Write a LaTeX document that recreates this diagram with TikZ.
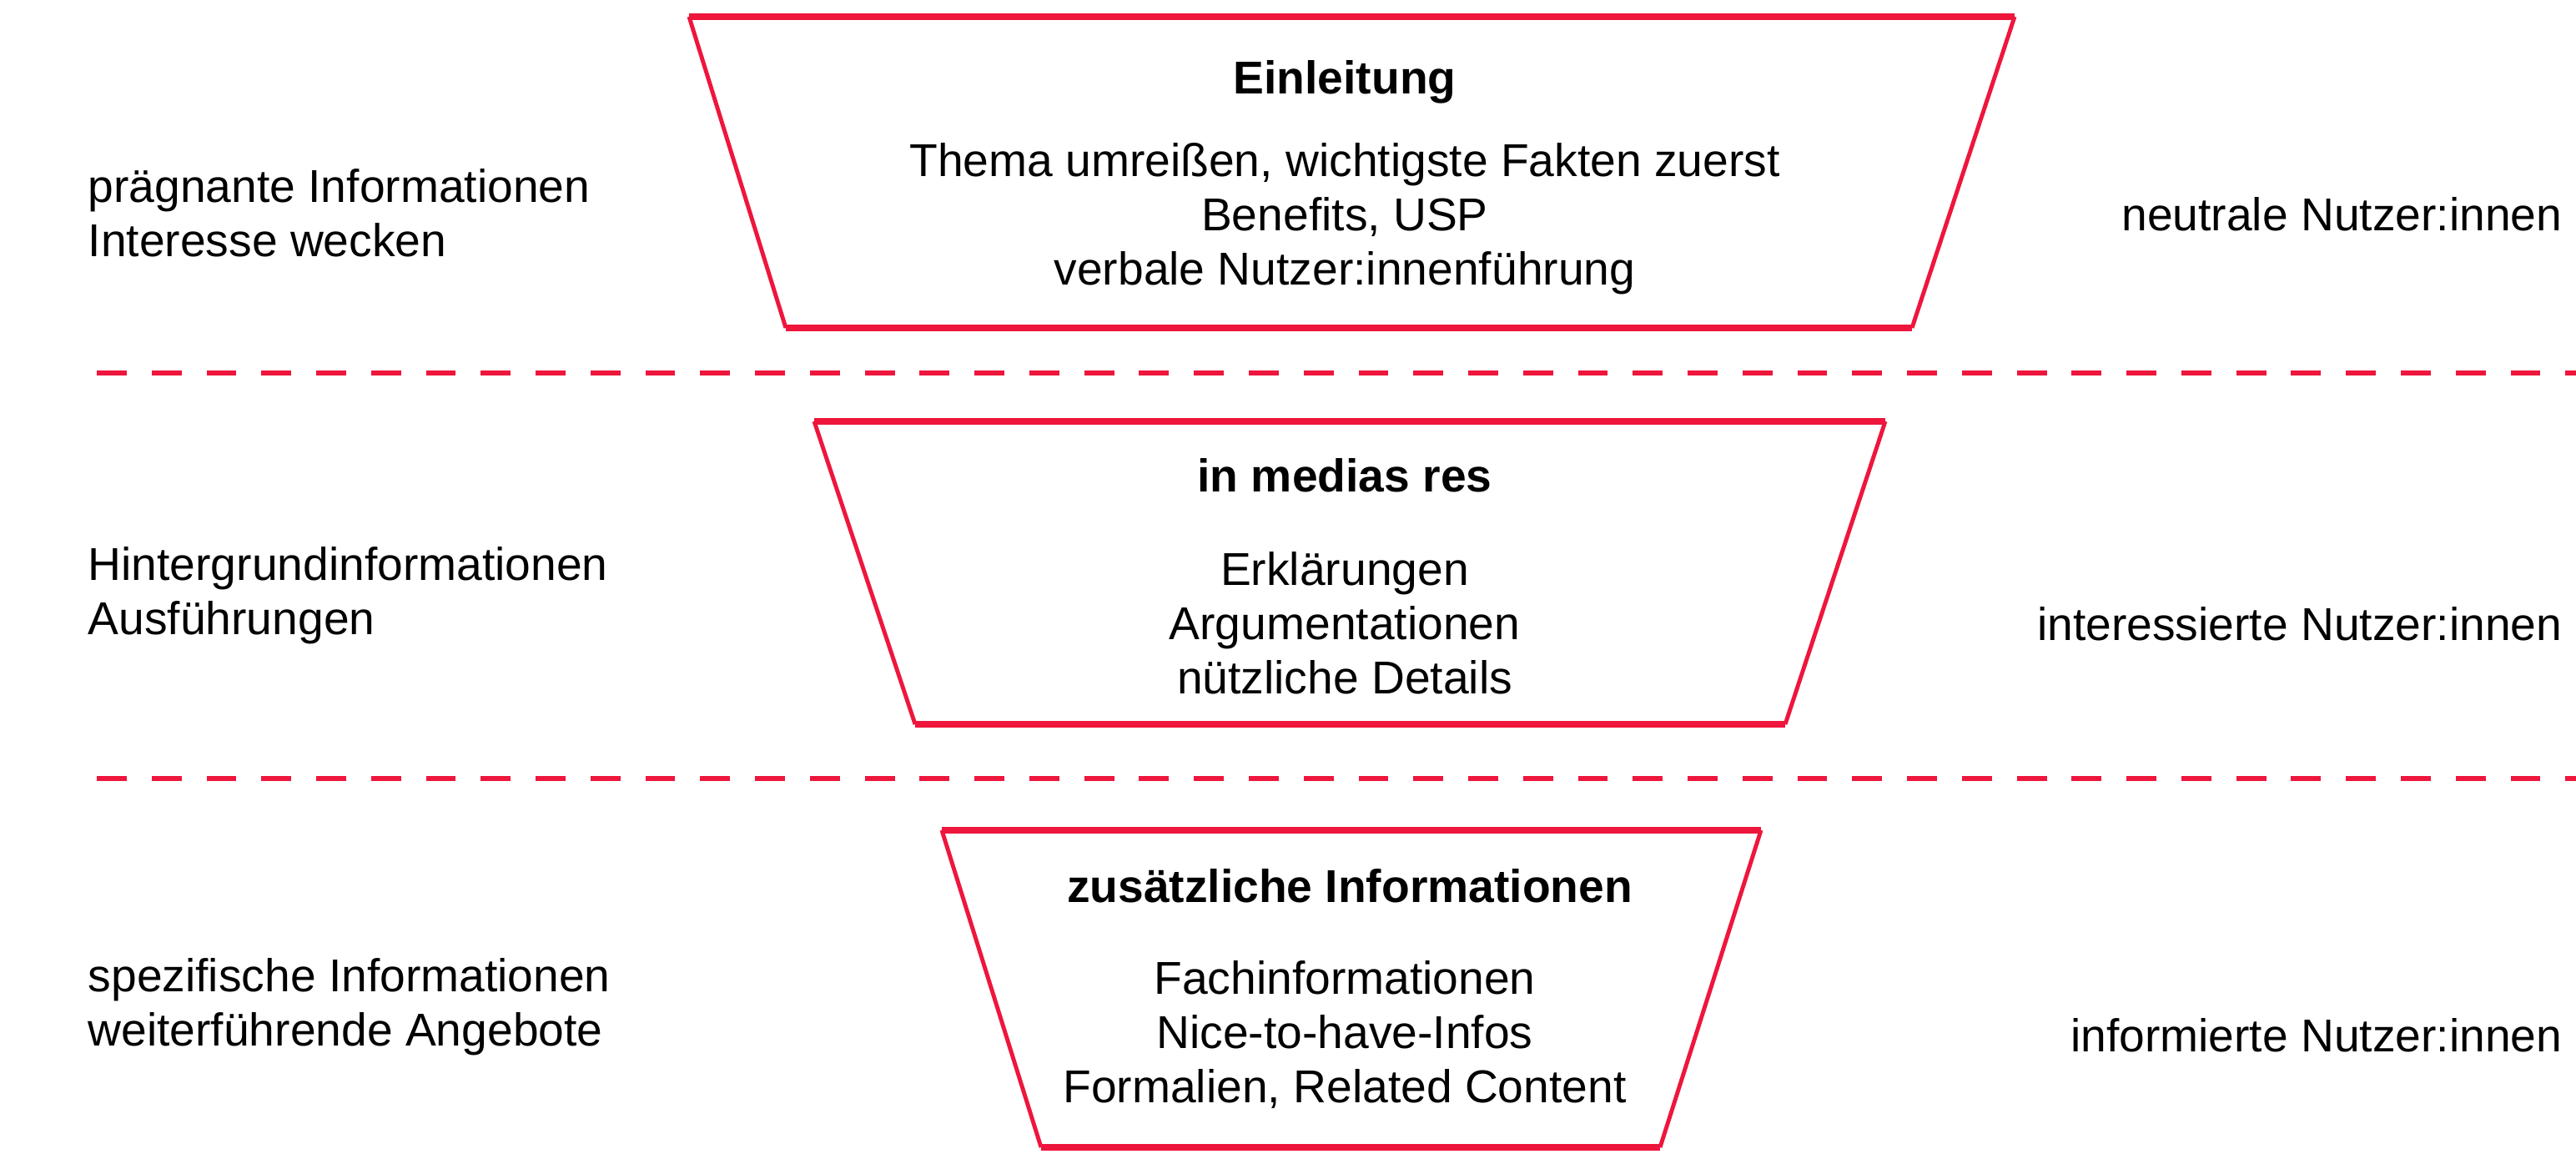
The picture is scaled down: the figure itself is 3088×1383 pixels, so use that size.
\documentclass[tikz,border=0pt]{standalone}
\usepackage{fontspec}
\setmainfont{Liberation Sans}
\definecolor{funnel red}{RGB}{238,22,60}
\def\textsize{\fontsize{15.7}{18.5}\selectfont}
\tikzset{
  side/.style={draw=funnel red, line width=1.4pt},
  rim/.style={draw=funnel red, line width=2.3pt},
  divider/.style={draw=funnel red, line width=1.8pt, dash pattern=on 10.2pt off 8.5pt}
  }
\tikzstyle{title}=[font=\textsize\bfseries, inner sep=0pt]
\tikzstyle{body}=[font=\textsize, align=center, inner sep=0pt]
\tikzstyle{leftlabel}=[font=\textsize, align=left, anchor=west, inner sep=0pt]
\tikzstyle{rightlabel}=[font=\textsize, anchor=east, inner sep=0pt]

\begin{document}
\begin{tikzpicture}[x=0.01cm, y=-0.01cm]
   \useasboundingbox (0,0) rectangle (3088,1383);

   % corners of the three funnel parts
   \coordinate (a1) at (826,20);   \coordinate (a2) at (2415,20);
   \coordinate (a3) at (2292,393); \coordinate (a4) at (942,393);
   \coordinate (b1) at (976,505);  \coordinate (b2) at (2260,505);
   \coordinate (b3) at (2140,868); \coordinate (b4) at (1097,868);
   \coordinate (c1) at (1129,995); \coordinate (c2) at (2111,995);
   \coordinate (c3) at (1990,1375); \coordinate (c4) at (1248,1375);

   \foreach \p in {a,b,c} {
      \draw[side] (\p1) -- (\p4) (\p2) -- (\p3);
      \draw[rim] (\p1) -- (\p2) (\p4) -- (\p3);
   }

   % dashed separators
   \coordinate (d1) at (116,447);  \coordinate (d2) at (3088,447);
   \coordinate (e1) at (116,933);  \coordinate (e2) at (3088,933);
   \path[divider] (d1) -- (d2);
   \path[divider] (e1) -- (e2);

   \node[title] (einl) at (1612,98) {Einleitung};
   \node[body] (einltext) at (1612,262) {Thema umreißen, wichtigste Fakten zuerst\\Benefits, USP\\verbale Nutzer:innenführung};

   \node[title] (medias) at (1612,570) {in medias res};
   \node[body] (mediastext) at (1612,747) {Erklärungen\\Argumentationen\\nützliche Details};

   \node[title] (zusatz) at (1618,1062) {zusätzliche Informationen};
   \node[body] (zusatztext) at (1612,1240) {Fachinformationen\\Nice-to-have-Infos\\Formalien, Related Content};

   \node[leftlabel] (links1) at (105,255) {prägnante Informationen\\Interesse wecken};
   \node[leftlabel] (links2) at (105,714) {Hintergrundinformationen\\Ausführungen};
   \node[leftlabel] (links3) at (105,1207) {spezifische Informationen\\weiterführende Angebote};

   \node[rightlabel] (rechts1) at (3072,257) {neutrale Nutzer:innen};
   \node[rightlabel] (rechts2) at (3072,748) {interessierte Nutzer:innen};
   \node[rightlabel] (rechts3) at (3072,1241) {informierte Nutzer:innen};
\end{tikzpicture}
\end{document}
